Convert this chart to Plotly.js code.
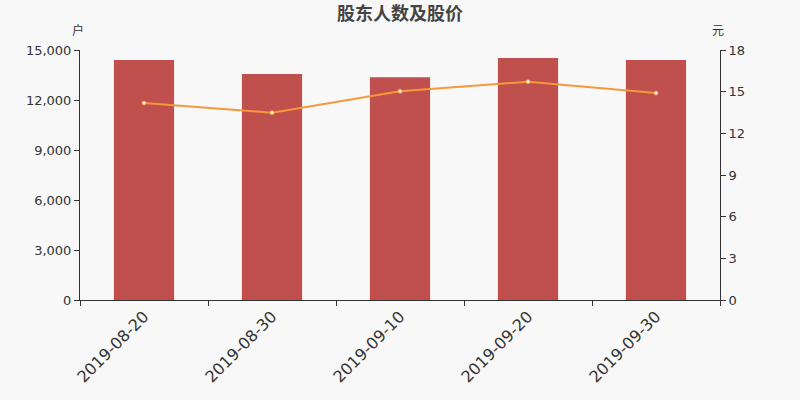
<!DOCTYPE html>
<html>
<head>
<meta charset="utf-8">
<script src="https://cdn.plot.ly/plotly-3.0.1.min.js"></script>
<style>
  html, body { margin: 0; padding: 0; background: #f8f8f8; }
  #chart { width: 800px; height: 400px; }
</style>
</head>
<body>
<div id="chart"></div>
<script>
// Data

const dates = ["2019-08-20", "2019-08-30", "2019-09-10", "2019-09-20", "2019-09-30"];
const holders = [14400, 13560, 13360, 14520, 14400]; // 户
const prices = [14.18, 13.49, 15.03, 15.72, 14.9]; // 元

const leftTicks = [0, 3000, 6000, 9000, 12000, 15000];
const rightTicks = [0, 3, 6, 9, 12, 15, 18];

// Chart

const axisColor = "#333";
const baseFont = "DejaVu Sans, sans-serif";
const cjkFont = "Noto Sans CJK SC, sans-serif";

const data = [
  {
    x: dates,
    y: holders,
    type: "bar",
    width: 0.47,
    marker: { color: "#c0504d" },
    hoverinfo: "x+y",
  },
  {
    x: dates,
    y: prices,
    type: "scatter",
    mode: "lines+markers",
    yaxis: "y2",
    line: { color: "#f7983c", width: 2 },
    marker: { color: "#ffffff", size: 4, line: { color: "#f7983c", width: 1 } },
    hoverinfo: "x+y",
  },
];

const layout = {
  width: 800,
  height: 400,
  paper_bgcolor: "#f8f8f8",
  plot_bgcolor: "#f8f8f8",
  showlegend: false,
  font: { family: baseFont, color: axisColor, size: 13 },
  title: {
    text: "<b>股东人数及股价</b>",
    x: 0.5,
    xanchor: "center",
    y: 0.965,
    yanchor: "middle",
    font: { family: cjkFont, size: 18, color: "#444" },
  },
  margin: { l: 80, r: 80, t: 50, b: 100 },
  xaxis: {
    type: "category",
    tickson: "boundaries",
    ticks: "outside",
    ticklen: 5,
    tickcolor: axisColor,
    showline: true,
    linecolor: axisColor,
    linewidth: 1,
    showgrid: false,
    zeroline: false,
    tickangle: -45,
    tickfont: { size: 16, color: axisColor },
  },
  yaxis: {
    range: [0, 15000],
    tickvals: leftTicks,
    tickformat: ",d",
    ticks: "outside",
    ticklen: 5,
    tickcolor: axisColor,
    showline: true,
    linecolor: axisColor,
    showgrid: false,
    zeroline: false,
    tickfont: { size: 13, color: axisColor },
  },
  yaxis2: {
    overlaying: "y",
    side: "right",
    range: [0, 18],
    tickvals: rightTicks,
    ticks: "outside",
    ticklen: 5,
    tickcolor: axisColor,
    showline: true,
    linecolor: axisColor,
    showgrid: false,
    zeroline: false,
    tickfont: { size: 13, color: axisColor },
  },
  annotations: [
    {
      text: "户",
      xref: "paper",
      yref: "paper",
      x: 0,
      y: 1,
      xanchor: "center",
      yanchor: "bottom",
      xshift: -2,
      yshift: 10,
      showarrow: false,
      font: { family: cjkFont, size: 12, color: axisColor },
    },
    {
      text: "元",
      xref: "paper",
      yref: "paper",
      x: 1,
      y: 1,
      xanchor: "center",
      yanchor: "bottom",
      xshift: -2,
      yshift: 10,
      showarrow: false,
      font: { family: cjkFont, size: 12, color: axisColor },
    },
  ],
};

Plotly.newPlot("chart", data, layout, { displayModeBar: false, staticPlot: true });
</script>
</body>
</html>
